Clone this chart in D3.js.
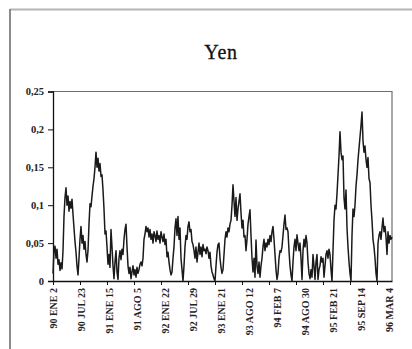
<!DOCTYPE html>
<html>
<head>
<meta charset="utf-8">
<script src="https://cdn.jsdelivr.net/npm/d3@7"></script>
<style>
  html, body { margin: 0; padding: 0; background: #fff; }
  svg { display: block; }
</style>
</head>
<body>
<svg id="chart" width="412" height="349"></svg>
<script>
// Daily volatility series for the yen, one reading per plotted step
const values = [
  0.010, 0.040, 0.046, 0.030, 0.042, 0.022, 0.028, 0.014, 0.024, 0.016,
  0.040, 0.085, 0.110, 0.123, 0.100, 0.112, 0.092, 0.105, 0.096, 0.108,
  0.088, 0.070, 0.052, 0.038, 0.020, 0.008, 0.030, 0.055, 0.072, 0.050,
  0.060, 0.042, 0.052, 0.035, 0.025, 0.040, 0.075, 0.102, 0.098, 0.112,
  0.125, 0.135, 0.150, 0.170, 0.150, 0.162, 0.145, 0.155, 0.138, 0.140,
  0.120, 0.095, 0.062, 0.066, 0.045, 0.022, 0.035, 0.018, 0.068, 0.045,
  0.020, 0.003, 0.025, 0.040, 0.012, 0.002, 0.030, 0.040, 0.028, 0.042,
  0.035, 0.055, 0.068, 0.075, 0.045, 0.020, 0.010, 0.018, 0.003, 0.012,
  0.020, 0.008, 0.015, 0.005, 0.018, 0.010, 0.015, 0.022, 0.025, 0.020,
  0.030, 0.055, 0.062, 0.072, 0.065, 0.070, 0.058, 0.068, 0.055, 0.062,
  0.050, 0.065, 0.060, 0.052, 0.066, 0.055, 0.060, 0.050, 0.065, 0.058,
  0.052, 0.062, 0.048, 0.055, 0.032, 0.038, 0.025, 0.015, 0.008, 0.012,
  0.030, 0.045, 0.070, 0.082, 0.060, 0.085, 0.055, 0.070, 0.030, 0.015,
  0.000, 0.020, 0.045, 0.060, 0.055, 0.072, 0.078, 0.065, 0.068, 0.052,
  0.048, 0.040, 0.030, 0.045, 0.025, 0.038, 0.050, 0.035, 0.045, 0.032,
  0.048, 0.040, 0.042, 0.036, 0.045, 0.040, 0.030, 0.038, 0.020, 0.012,
  0.008, 0.003, 0.000, 0.020, 0.038, 0.048, 0.050, 0.030, 0.018, 0.010,
  0.015, 0.035, 0.055, 0.065, 0.058, 0.070, 0.065, 0.075, 0.080, 0.100,
  0.127, 0.105, 0.085, 0.110, 0.080, 0.095, 0.105, 0.115, 0.090, 0.070,
  0.080, 0.058, 0.060, 0.040, 0.055, 0.075, 0.085, 0.094, 0.060, 0.030,
  0.012, 0.030, 0.005, 0.054, 0.020, 0.010, 0.025, 0.005, 0.020, 0.030,
  0.045, 0.055, 0.040, 0.050, 0.045, 0.055, 0.048, 0.060, 0.052, 0.065,
  0.072, 0.055, 0.035, 0.015, 0.002, 0.010, 0.030, 0.040, 0.038, 0.045,
  0.060, 0.075, 0.087, 0.068, 0.070, 0.065, 0.040, 0.020, 0.008, 0.000,
  0.025, 0.045, 0.055, 0.040, 0.061, 0.050, 0.040, 0.050, 0.030, 0.002,
  0.040, 0.055, 0.045, 0.060, 0.050, 0.025, 0.010, 0.003, 0.015, 0.005,
  0.035, 0.020, 0.002, 0.025, 0.035, 0.002, 0.015, 0.020, 0.032, 0.025,
  0.030, 0.005, 0.020, 0.035, 0.040, 0.030, 0.042, 0.035, 0.015, 0.000,
  0.040, 0.080, 0.100, 0.095, 0.115, 0.140, 0.165, 0.197, 0.170, 0.160,
  0.165, 0.110, 0.095, 0.120, 0.070, 0.045, 0.025, 0.010, 0.000, 0.060,
  0.095, 0.085, 0.100, 0.125, 0.140, 0.160, 0.175, 0.190, 0.205, 0.223,
  0.185, 0.170, 0.178, 0.160, 0.150, 0.163, 0.135, 0.130, 0.100, 0.080,
  0.055, 0.045, 0.030, 0.010, 0.000, 0.050, 0.060, 0.065, 0.055, 0.070,
  0.083, 0.065, 0.072, 0.058, 0.035, 0.065, 0.050, 0.060, 0.055, 0.058
];

// Category labels shown along the date axis
const dateLabels = [
  "90 ENE 2", "90 JUL 23", "91 ENE 15", "91 AGO 5", "92 ENE 22",
  "92 JUL 29", "93 ENE 21", "93 AGO 12", "94 FEB 7", "94 AGO 30",
  "95 FEB 21", "95 SEP 14", "96 MAR 4"
];
const labelEvery = 28;   // points between date labels
const tickEvery = 27;    // points between axis tick marks

const yTicks = [0, 0.05, 0.1, 0.15, 0.2, 0.25];
const title = "Yen";

const svg = d3.select("#chart");
const W = 412, H = 349;
const m = { left: 53, right: 20, top: 91.5, bottom: 68 };
const plotW = W - m.left - m.right;   // 339
const plotH = H - m.top - m.bottom;   // 189.5
const serif = "'Liberation Serif', 'Times New Roman', serif";

// Outer chart frame
svg.append("line").attr("x1", 10).attr("x2", W).attr("y1", 9.5).attr("y2", 9.5)
  .attr("stroke", "#b4b4b4").attr("stroke-width", 2);
svg.append("line").attr("x1", 10).attr("x2", 10).attr("y1", 9).attr("y2", H)
  .attr("stroke", "#8c8c8c").attr("stroke-width", 2);

// Title
svg.append("text")
  .attr("x", 221).attr("y", 59)
  .attr("text-anchor", "middle")
  .attr("font-family", serif)
  .attr("font-size", 20)
  .attr("letter-spacing", 0.8)
  .attr("stroke", "#111").attr("stroke-width", 0.3)
  .attr("fill", "#111")
  .text(title);

const x = d3.scaleLinear().domain([0, values.length - 1]).range([m.left, m.left + plotW]);
const y = d3.scaleLinear().domain([0, 0.25]).range([m.top + plotH, m.top]);

// Plot-area border (top and right)
svg.append("path")
  .attr("d", `M${m.left},${m.top}H${m.left + plotW}V${m.top + plotH}`)
  .attr("fill", "none").attr("stroke", "#6e6e6e").attr("stroke-width", 1.2);

// Y axis
const fmt = v => v === 0 ? "0" : String(v).replace(".", ",");
const yAxis = svg.append("g")
  .attr("transform", `translate(${m.left},0)`)
  .call(d3.axisLeft(y).tickValues(yTicks).tickFormat(fmt).tickSize(5).tickPadding(4));
yAxis.select(".domain").attr("stroke", "#111").attr("stroke-width", 1.3);
yAxis.selectAll(".tick line").attr("stroke", "#111");
yAxis.selectAll(".tick text")
  .attr("font-family", serif)
  .attr("font-weight", "bold")
  .attr("font-size", 10.5)
  .attr("fill", "#222");

// X axis tick marks
const tickIdx = d3.range(0, values.length, tickEvery);
const xAxis = svg.append("g")
  .attr("transform", `translate(0,${m.top + plotH})`)
  .call(d3.axisBottom(x).tickValues(tickIdx).tickFormat("").tickSize(4).tickSizeOuter(0));
xAxis.select(".domain").attr("stroke", "#111").attr("stroke-width", 1.3);
xAxis.selectAll(".tick line").attr("stroke", "#111");

// X axis date labels, rotated
const labelIdx = dateLabels.map((d, i) => i * labelEvery);
svg.append("g").selectAll("text")
  .data(dateLabels)
  .join("text")
  .attr("transform", (d, i) => `translate(${x(labelIdx[i]) + 3.5},${m.top + plotH + 7}) rotate(-90)`)
  .attr("text-anchor", "end")
  .attr("font-family", serif)
  .attr("font-weight", "bold")
  .attr("font-size", 10)
  .attr("fill", "#222")
  .text(d => d);

// Series line
const line = d3.line().x((d, i) => x(i)).y(d => y(d));
svg.append("path")
  .datum(values)
  .attr("d", line)
  .attr("fill", "none")
  .attr("stroke", "#1a1a1a")
  .attr("stroke-width", 1.5)
  .attr("stroke-linejoin", "round");
</script>
</body>
</html>
